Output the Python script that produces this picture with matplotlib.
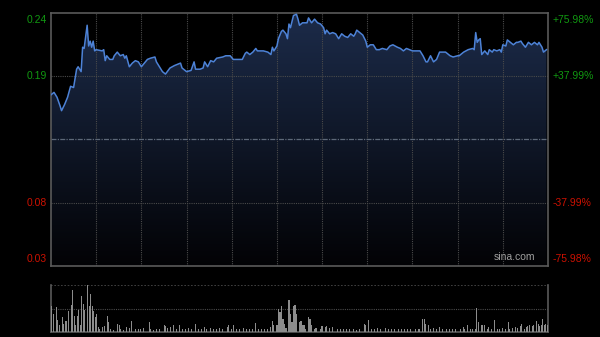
import matplotlib
matplotlib.use("Agg")
import matplotlib.pyplot as plt
import numpy as np

# minute index from open (HK session, 330 minutes) and last price
minutes = [0, 2, 4, 6, 7, 9, 11, 13, 15, 17, 18, 20, 21, 22, 24, 25, 26, 27, 28, 29,
           30, 34, 35, 36, 37, 39, 41, 42, 44, 46, 48, 49, 50, 52, 54, 56, 58, 60, 62, 64,
           66, 69, 70, 74, 76, 79, 82, 86, 87, 90, 93, 95, 96, 99, 101, 102, 104, 106, 108, 110,
           114, 116, 118, 119, 121, 127, 129, 130, 132, 134, 136, 137, 141, 144, 146, 147, 148, 150, 151, 153,
           154, 156, 157, 158, 159, 161, 163, 164, 165, 167, 170, 171, 173, 175, 177, 179, 181, 182, 183, 185,
           187, 189, 191, 193, 195, 197, 199, 201, 202, 203, 205, 207, 209, 210, 212, 214, 216, 218, 220, 223,
           225, 227, 230, 232, 234, 236, 238, 240, 245, 247, 249, 250, 252, 254, 256, 258, 262, 265, 267, 270,
           271, 274, 277, 280, 281, 282, 283, 284, 285, 286, 288, 290, 291, 293, 294, 296, 298, 299, 300, 302,
           303, 305, 307, 309, 310, 312, 313, 315, 317, 319, 321, 323, 324, 326, 327, 329]
prices = [0.173, 0.175, 0.171, 0.164, 0.160, 0.165, 0.171, 0.180, 0.179, 0.194, 0.196, 0.192, 0.212, 0.211, 0.230, 0.213, 0.217, 0.212, 0.217, 0.209,
          0.210, 0.209, 0.210, 0.201, 0.205, 0.202, 0.202, 0.205, 0.208, 0.205, 0.206, 0.203, 0.205, 0.196, 0.199, 0.201, 0.200, 0.196, 0.199, 0.202,
          0.203, 0.204, 0.200, 0.192, 0.190, 0.195, 0.197, 0.199, 0.195, 0.192, 0.193, 0.200, 0.194, 0.194, 0.195, 0.200, 0.196, 0.201, 0.200, 0.203,
          0.204, 0.205, 0.205, 0.205, 0.202, 0.202, 0.207, 0.208, 0.206, 0.208, 0.211, 0.209, 0.209, 0.208, 0.206, 0.212, 0.209, 0.213, 0.219, 0.225,
          0.226, 0.223, 0.219, 0.231, 0.228, 0.238, 0.239, 0.235, 0.230, 0.232, 0.232, 0.236, 0.232, 0.235, 0.232, 0.231, 0.228, 0.223, 0.226, 0.223,
          0.224, 0.223, 0.219, 0.223, 0.221, 0.220, 0.223, 0.221, 0.223, 0.226, 0.224, 0.222, 0.217, 0.212, 0.214, 0.214, 0.210, 0.210, 0.211, 0.210,
          0.213, 0.214, 0.212, 0.211, 0.209, 0.211, 0.210, 0.209, 0.209, 0.205, 0.200, 0.200, 0.205, 0.200, 0.202, 0.208, 0.208, 0.205, 0.204, 0.205,
          0.205, 0.208, 0.210, 0.211, 0.210, 0.224, 0.216, 0.218, 0.219, 0.206, 0.209, 0.206, 0.210, 0.208, 0.210, 0.209, 0.210, 0.208, 0.214, 0.213,
          0.218, 0.216, 0.214, 0.216, 0.216, 0.217, 0.215, 0.212, 0.216, 0.214, 0.216, 0.214, 0.216, 0.212, 0.208, 0.210]

# volume (relative to panel top = 100)
vol_minutes = [0, 1, 3, 4, 5, 7, 8, 9, 10, 11, 13, 14, 15, 16, 17, 18, 19, 20, 21, 22,
               24, 25, 26, 27, 28, 29, 30, 31, 32, 34, 35, 37, 38, 39, 41, 44, 45, 46, 48, 50,
               52, 53, 56, 58, 59, 61, 65, 66, 68, 70, 72, 75, 76, 77, 79, 81, 83, 85, 87, 89,
               91, 93, 96, 98, 100, 102, 103, 106, 108, 110, 112, 114, 117, 118, 120, 121, 123, 125, 128, 130,
               132, 134, 136, 138, 140, 142, 144, 146, 147, 148, 150, 151, 152, 153, 154, 155, 156, 158, 159, 160,
               161, 162, 163, 165, 166, 167, 168, 169, 171, 172, 173, 175, 176, 179, 180, 182, 183, 185, 187, 190,
               192, 194, 196, 198, 201, 203, 205, 208, 209, 211, 213, 215, 217, 219, 222, 224, 226, 228, 231, 233,
               235, 237, 239, 242, 244, 245, 247, 248, 249, 251, 252, 254, 256, 258, 260, 263, 265, 267, 269, 272,
               274, 275, 277, 279, 280, 282, 283, 284, 286, 287, 288, 290, 291, 293, 295, 297, 298, 300, 302, 304,
               305, 307, 309, 310, 312, 313, 315, 316, 317, 318, 320, 321, 323, 324, 325, 326, 327, 328, 329, 330]
volumes = [56, 39, 53, 25, 14, 32, 18, 23, 23, 44, 58, 90, 35, 14, 34, 46, 14, 77, 60, 46,
           100, 56, 81, 56, 44, 32, 39, 11, 7, 11, 13, 35, 21, 7, 4, 18, 15, 7, 4, 11,
           8, 23, 6, 7, 6, 8, 21, 6, 4, 7, 6, 14, 13, 8, 11, 14, 7, 15, 6, 7,
           8, 7, 18, 6, 7, 11, 6, 8, 7, 6, 8, 7, 11, 14, 7, 15, 7, 6, 8, 6,
           7, 6, 20, 6, 7, 6, 7, 11, 23, 15, 14, 49, 42, 56, 28, 18, 8, 69, 39, 21,
           56, 58, 39, 21, 23, 15, 14, 7, 32, 28, 15, 7, 8, 7, 13, 11, 12, 8, 11, 7,
           6, 7, 6, 7, 6, 4, 6, 18, 14, 25, 6, 7, 8, 7, 8, 6, 7, 6, 7, 6,
           7, 6, 7, 6, 7, 7, 27, 27, 18, 14, 7, 8, 6, 11, 7, 6, 7, 6, 7, 6,
           11, 7, 14, 6, 7, 6, 51, 21, 14, 15, 14, 7, 11, 7, 25, 7, 6, 8, 7, 21,
           7, 8, 11, 8, 13, 18, 7, 11, 13, 14, 13, 15, 23, 18, 13, 14, 28, 15, 18, 14]

prev_close = 0.1364
pct_range = 0.7598

bg = "black"
grid_c = "#4a4a4a"
border_c = "#5a5a5a"
up_c = "#119911"
down_c = "#cc1100"

fig = plt.figure(figsize=(6.0, 3.37), dpi=100, facecolor=bg)
ax = fig.add_axes([51 / 600, (337 - 266) / 337, 497 / 600, 253 / 337], facecolor=bg)
axv = fig.add_axes([51 / 600, (337 - 332) / 337, 497 / 600, 47 / 337], facecolor=bg)

lo = prev_close * (1 - pct_range)
hi = prev_close * (1 + pct_range)

# gradient area under the price line
grad = np.linspace(1, 0, 256).reshape(-1, 1)
top_rgb = np.array([0.11, 0.17, 0.29])
bot_rgb = np.array([0.01, 0.01, 0.02])
img = bot_rgb + (top_rgb - bot_rgb) * grad[..., None]
poly = ax.fill_between(minutes, prices, lo, color="none", lw=0)
im = ax.imshow(img, extent=[0, 330, lo, hi], aspect="auto", zorder=1)
im.set_clip_path(poly.get_paths()[0], transform=ax.transData)
ax.set_xlim(0, 330)
ax.set_ylim(lo, hi)

# grid
for m in range(30, 330, 30):
    ax.axvline(m, color=grid_c, lw=0.8, ls=(0, (1, 1)), zorder=2)
for f in (0.5, -0.5):
    ax.axhline(prev_close * (1 + pct_range * f), color=grid_c, lw=0.8, ls=(0, (1, 1)), zorder=2)
ax.axhline(prev_close, color="#5d6878", lw=0.9, ls=(0, (4, 1, 1, 1)), zorder=2)

ax.plot(minutes, prices, color="#4d82d6", lw=1.1, zorder=3)

for s in ax.spines.values():
    s.set_color(border_c)
    s.set_linewidth(1.2)
ax.set_xticks([])
ax.set_yticks([])

# axis labels
fracs = [1.0, 0.5, -0.5, -1.0]
for f in fracs:
    v = prev_close * (1 + pct_range * f)
    c = up_c if f > 0 else down_c
    if f == 1.0:
        va, dy = "top", -1.5
    elif f == -1.0:
        va, dy = "bottom", 1.5
    else:
        va, dy = "center", 0
    ax.annotate(f"{v:.2f}", (0, v), xycoords=("axes fraction", "data"),
                xytext=(-3, dy), textcoords="offset points", ha="right", va=va,
                color=c, fontsize=7.5, family="Liberation Sans")
    sign = "+" if f > 0 else "-"
    ax.annotate(f"{sign}{abs(pct_range * f) * 100:.2f}%", (1, v), xycoords=("axes fraction", "data"),
                xytext=(3, dy), textcoords="offset points", ha="left", va=va,
                color=c, fontsize=7.5, family="Liberation Sans")

ax.text(0.975, 0.015, "sina.com", transform=ax.transAxes, ha="right", va="bottom",
        color="#a0a0a0", fontsize=7.5, family="Liberation Sans", zorder=4)

# volume panel
axv.set_xlim(-0.5, 330.5)
axv.set_ylim(0, 100)
axv.bar(vol_minutes, volumes, width=0.7, color="#8c8c8c", lw=0, zorder=3)
axv.axhline(50, color=grid_c, lw=0.8, ls=(0, (1, 1)), zorder=2)
axv.axhline(100, color=grid_c, lw=1.2, ls=(0, (1, 1)), zorder=2)
axv.spines["top"].set_visible(False)
for k in ("left", "right", "bottom"):
    axv.spines[k].set_color(border_c)
    axv.spines[k].set_linewidth(1.2)
axv.set_xticks([])
axv.set_yticks([])

fig.savefig("out.png", dpi=100, facecolor=bg)
